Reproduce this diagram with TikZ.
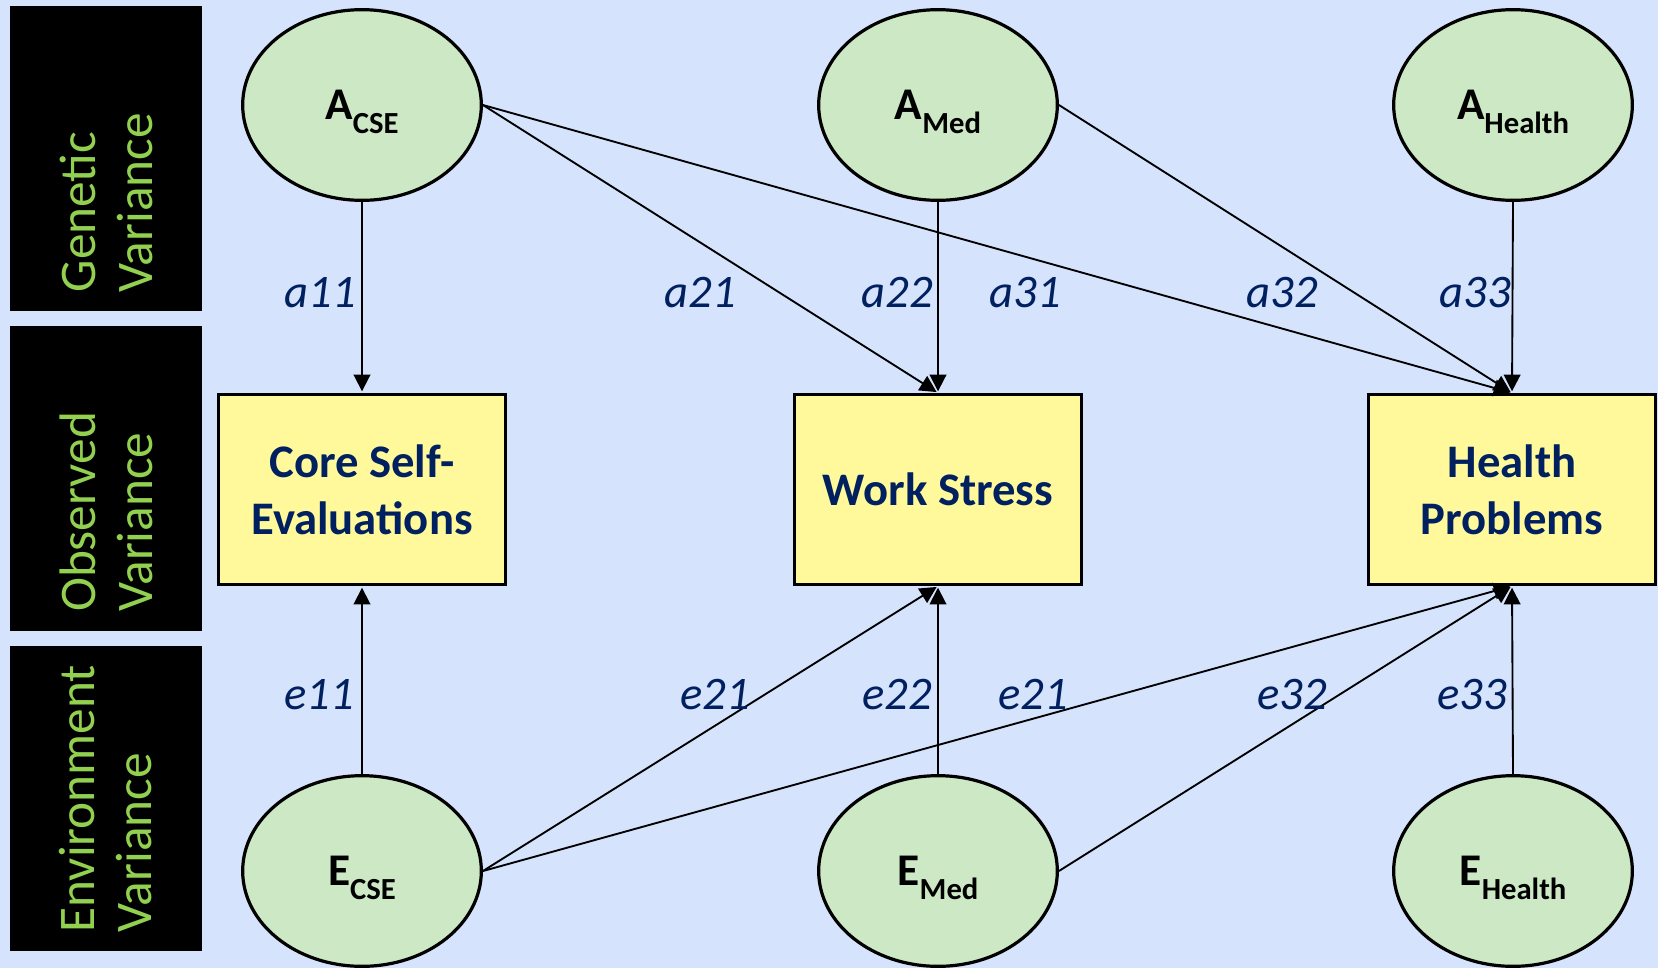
\documentclass[tikz,border=0pt]{standalone}
\usepackage{fontspec}
\setmainfont{Carlito}
\usetikzlibrary{arrows.meta,shapes.geometric}

\definecolor{bgblue}{HTML}{D5E3FC}
\definecolor{latentfill}{HTML}{CCE8C4}
\definecolor{obsfill}{HTML}{FFF99B}
\definecolor{navy}{HTML}{002060}
\definecolor{bandgreen}{HTML}{92D050}

\tikzset{
  latent/.style={ellipse, draw=black, line width=2.4pt, fill=latentfill,
    minimum width=179pt, minimum height=143pt, inner sep=0pt,
    font=\fontsize{34}{40}\selectfont\bfseries},
  observed/.style={rectangle, draw=black, line width=2.4pt, fill=obsfill,
    minimum width=215pt, minimum height=142.5pt, inner sep=0pt, align=center,
    text=navy, font=\fontsize{35}{42.5}\selectfont\bfseries},
  band/.style={rectangle, fill=black, minimum width=144pt, minimum height=228.75pt,
    inner sep=0pt},
  bandlabel/.style={rotate=90, anchor=west, text=bandgreen, align=left, inner sep=0pt,
    font=\fontsize{38.5}{42.75}\selectfont},
  link/.style={draw=black, line width=1.4pt, shorten >=1.2pt,
    -{Triangle[length=12.5pt,width=12.5pt]}},
  coef/.style={text=navy, inner sep=0pt, font=\fontsize{35}{40}\selectfont\itshape},
}
% latent factor label: base letter with a lowered subscript
\newcommand{\latname}[2]{#1\smash{\raisebox{-10.7pt}{\fontsize{23}{23}\selectfont #2}}}

\begin{document}
\begin{tikzpicture}[x=0.75pt,y=-0.75pt]
  \useasboundingbox (0,0) rectangle (1658,968);
  \fill[bgblue] (0,0) rectangle (1658,968);

  % row bands on the left
  \node[band] (bandG) at (106,158.5) {};
  \node[band] (bandO) at (106,478) {};
  \node[band] (bandE) at (106,798.5) {};
  \node[bandlabel] (labG) at ([yshift=14pt]bandG.south) {Genetic\\Variance};
  \node[bandlabel] (labO) at ([yshift=14pt]bandO.south) {Observed\\Variance};
  \node[bandlabel] (labE) at ([yshift=14pt]bandE.south) {Environment\\Variance};

  % genetic factors
  \node[latent] (Acse) at (362,105) {\latname{A}{CSE}};
  \node[latent] (Amed) at (938,105) {\latname{A}{Med}};
  \node[latent] (Ahea) at (1513,105) {\latname{A}{Health}};

  % observed variables
  \node[observed] (cse) at (362,489.5) {Core Self-\\Evaluations};
  \node[observed] (ws) at (938,489.5) {Work Stress};
  \node[observed] (hp) at (1512,489.5) {Health\\Problems};

  % environmental factors
  \node[latent] (Ecse) at (362,871) {\latname{E}{CSE}};
  \node[latent] (Emed) at (938,871) {\latname{E}{Med}};
  \node[latent] (Ehea) at (1513,871) {\latname{E}{Health}};

  % genetic paths
  \draw[link] (Acse.south) -- (cse.north);
  \draw[link] (Acse.east) -- (ws.north);
  \draw[link] (Acse.east) -- (hp.north);
  \draw[link] (Amed.south) -- (ws.north);
  \draw[link] (Amed.east) -- (hp.north);
  \draw[link] (Ahea.south) -- (hp.north);

  % environmental paths
  \draw[link] (Ecse.north) -- (cse.south);
  \draw[link] (Ecse.east) -- (ws.south);
  \draw[link] (Ecse.east) -- (hp.south);
  \draw[link] (Emed.north) -- (ws.south);
  \draw[link] (Emed.east) -- (hp.south);
  \draw[link] (Ehea.north) -- (hp.south);

  % path coefficients
  \node[coef] (a11) at (320,293) {a11};
  \node[coef] (a21) at (700,293) {a21};
  \node[coef] (a22) at (897,293) {a22};
  \node[coef] (a31) at (1025,293) {a31};
  \node[coef] (a32) at (1282,293) {a32};
  \node[coef] (a33) at (1475,293) {a33};

  \node[coef] (e11) at (319,695) {e11};
  \node[coef] (e21) at (715,695) {e21};
  \node[coef] (e22) at (897,695) {e22};
  \node[coef] (e21b) at (1033,695) {e21};
  \node[coef] (e32) at (1292,695) {e32};
  \node[coef] (e33) at (1472,695) {e33};
\end{tikzpicture}
\end{document}
